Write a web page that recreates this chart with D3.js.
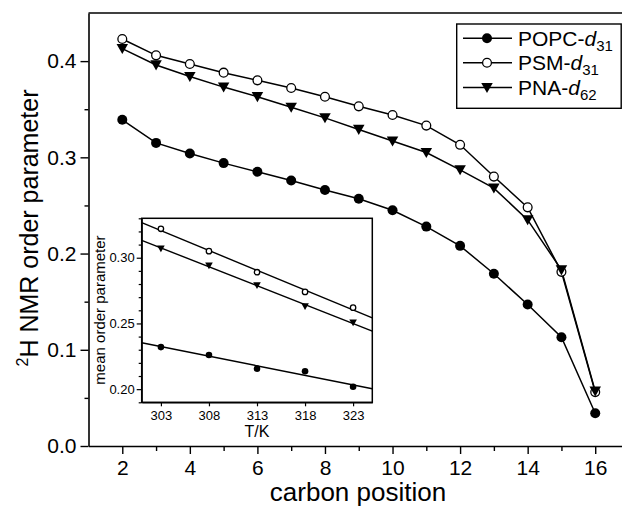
<!DOCTYPE html>
<html><head><meta charset="utf-8">
<script src="https://cdn.jsdelivr.net/npm/d3@7"></script>
<style>body{margin:0;background:#fff}svg{display:block}</style>
</head><body>
<svg id="c" width="622" height="508"></svg>
<script>
// ---- main chart data ----
const carbons = [2,3,4,5,6,7,8,9,10,11,12,13,14,15,16];
const popc = [0.339,0.315,0.304,0.294,0.285,0.276,0.266,0.257,0.245,0.228,0.208,0.179,0.147,0.113,0.034];
const psm  = [0.423,0.406,0.397,0.388,0.380,0.372,0.363,0.353,0.344,0.333,0.313,0.280,0.248,0.181,0.056];
const pna  = [0.413,0.396,0.384,0.373,0.363,0.352,0.341,0.329,0.317,0.305,0.287,0.268,0.235,0.183,0.057];
const xTicks = [2,4,6,8,10,12,14,16];
const xMinor = [3,5,7,9,11,13,15];
const yTicks = [0.0,0.1,0.2,0.3,0.4];
const yMinor = [0.05,0.15,0.25,0.35];
// ---- inset data ----
const temps = [303,308,313,318,323];
const popcT = [0.232,0.226,0.2156,0.2136,0.2018];
const psmT  = [0.322,0.305,0.289,0.274,0.262];
const pnaT  = [0.307,0.294,0.279,0.263,0.2506];
const tTicks = [303,308,313,318,323];
const sTicks = [0.20,0.25,0.30];
const sMinor = [0.19,0.21,0.22,0.23,0.24,0.26,0.27,0.28,0.29,0.31,0.32,0.33];

const FONT = "'Liberation Sans', Arial, Helvetica, sans-serif";
const svg = d3.select("#c").style("font-family", FONT);

const x = d3.scaleLinear().domain([1,17]).range([88.5,629]);
const y = d3.scaleLinear().domain([0,0.45]).range([446,13]);

function styleAxis(g, fs){
  g.selectAll(".domain").attr("stroke","#000").attr("stroke-width",1.6);
  g.selectAll(".tick line").attr("stroke","#000").attr("stroke-width",1.4);
  g.selectAll("text").attr("fill","#000").style("font-size",fs+"px").style("font-family",FONT);
}

// main axes
const gy = svg.append("g").attr("transform","translate(88.5,0)")
  .call(d3.axisLeft(y).tickValues(yTicks).tickFormat(d3.format(".1f")).tickSize(8).tickPadding(4).tickSizeOuter(0));
styleAxis(gy,21);
const gym = svg.append("g").attr("transform","translate(88.5,0)")
  .call(d3.axisLeft(y).tickValues(yMinor).tickFormat("").tickSize(4).tickSizeOuter(0));
styleAxis(gym,21); gym.select(".domain").remove();

const gx = svg.append("g").attr("transform","translate(0,446)")
  .call(d3.axisBottom(x).tickValues(xTicks).tickFormat(d3.format("d")).tickSize(8).tickPadding(6).tickSizeOuter(0));
styleAxis(gx,21);
const gxm = svg.append("g").attr("transform","translate(0,446)")
  .call(d3.axisBottom(x).tickValues(xMinor).tickFormat("").tickSize(5).tickSizeOuter(0));
styleAxis(gxm,21); gxm.select(".domain").remove();

// top frame
svg.append("line").attr("x1",x.range()[0]).attr("x2",x.range()[1]).attr("y1",13).attr("y2",13)
  .attr("stroke","#000").attr("stroke-width",1.6);

// axis titles
svg.append("text").attr("x",358).attr("y",501).attr("text-anchor","middle")
  .style("font-size","26px").text("carbon position");
const yt = svg.append("text").attr("transform","translate(38,228) rotate(-90)")
  .attr("text-anchor","middle").style("font-size","25px");
yt.append("tspan").attr("dy",-10).style("font-size","16px").text("2");
yt.append("tspan").attr("dy",10).text("H NMR order parameter");

// markers
function tri(s){ return `M${-s},${-s*0.8}L${s},${-s*0.8}L0,${s*0.95}Z`; }
function drawMarker(g, kind, cx, cy, r){
  if(kind==="filled") g.append("circle").attr("cx",cx).attr("cy",cy).attr("r",r).attr("fill","#000");
  else if(kind==="open") g.append("circle").attr("cx",cx).attr("cy",cy).attr("r",r-0.6).attr("fill","#fff").attr("stroke","#000").attr("stroke-width",1.3);
  else g.append("path").attr("d",tri(r*1.15)).attr("transform",`translate(${cx},${cy})`).attr("fill","#000");
}

const series = [
  {name:"POPC-", sub:"31", vals:popc, kind:"filled", tv:popcT},
  {name:"PSM-", sub:"31", vals:psm, kind:"open", tv:psmT},
  {name:"PNA-", sub:"62", vals:pna, kind:"tri", tv:pnaT}
];

const line = d3.line().x(d=>x(d[0])).y(d=>y(d[1]));
const main = svg.append("g");
series.forEach(s=>{
  const pts = carbons.map((c,i)=>[c,s.vals[i]]);
  main.append("path").attr("d",line(pts)).attr("fill","none").attr("stroke","#000").attr("stroke-width",1.5);
});
[1,2,0].forEach(k=>{
  const s = series[k];
  carbons.forEach((c,i)=>drawMarker(main, s.kind, x(c), y(s.vals[i]), 5));
});

// legend
const lg = svg.append("g");
lg.append("rect").attr("x",456.7).attr("y",24).attr("width",164.5).attr("height",84.3)
  .attr("fill","#fff").attr("stroke","#000").attr("stroke-width",1.4);
const rowY = [38.3,62.7,87.5];
series.forEach((s,i)=>{
  lg.append("line").attr("x1",463).attr("x2",512).attr("y1",rowY[i]).attr("y2",rowY[i]).attr("stroke","#000").attr("stroke-width",1.5);
  drawMarker(lg, s.kind, 487, rowY[i], 5);
  const t = lg.append("text").attr("x",518).attr("y",rowY[i]+7.5).style("font-size","21px");
  t.append("tspan").text(s.name);
  t.append("tspan").style("font-style","italic").text("d");
  t.append("tspan").attr("dy",5).style("font-size","15px").text(s.sub);
});

// ---- inset ----
const ix = d3.scaleLinear().domain([301,325]).range([141.7,372.3]);
const iy = d3.scaleLinear().domain([0.19,0.33]).range([402.3,218.3]);
const ins = svg.append("g");
ins.append("rect").attr("x",ix.range()[0]).attr("y",iy.range()[1])
  .attr("width",ix.range()[1]-ix.range()[0]).attr("height",iy.range()[0]-iy.range()[1])
  .attr("fill","#fff").attr("stroke","#000").attr("stroke-width",1.5);
const giy = ins.append("g").attr("transform",`translate(${ix.range()[0]},0)`)
  .call(d3.axisLeft(iy).tickValues(sTicks).tickFormat(d3.format(".2f")).tickSize(5).tickPadding(2).tickSizeOuter(0));
styleAxis(giy,13);
const giym = ins.append("g").attr("transform",`translate(${ix.range()[0]},0)`)
  .call(d3.axisLeft(iy).tickValues(sMinor).tickFormat("").tickSize(3).tickSizeOuter(0));
styleAxis(giym,13); giym.select(".domain").remove();
const gix = ins.append("g").attr("transform",`translate(0,${iy.range()[0]})`)
  .call(d3.axisBottom(ix).tickValues(tTicks).tickFormat(d3.format("d")).tickSize(4).tickPadding(4).tickSizeOuter(0));
styleAxis(gix,13);
[giy,giym,gix].forEach(g=>g.selectAll(".domain,line").attr("stroke-width",1.2));

ins.append("text").attr("x",257).attr("y",437).attr("text-anchor","middle").style("font-size","16px").text("T/K");
ins.append("text").attr("transform","translate(105,310) rotate(-90)").attr("text-anchor","middle")
  .style("font-size","15px").text("mean order parameter");

// least-squares fit lines through the inset points
function fit(xs, ys){
  const mx = d3.mean(xs), my = d3.mean(ys);
  const b = d3.sum(xs.map((v,i)=>(v-mx)*(ys[i]-my))) / d3.sum(xs.map(v=>(v-mx)*(v-mx)));
  return t => my + b*(t-mx);
}
const clipId = "insclip";
svg.append("clipPath").attr("id",clipId).append("rect")
  .attr("x",ix.range()[0]).attr("y",iy.range()[1]).attr("width",ix.range()[1]-ix.range()[0]).attr("height",iy.range()[0]-iy.range()[1]);
const ig = ins.append("g").attr("clip-path",`url(#${clipId})`);
series.forEach(s=>{
  const f = fit(temps, s.tv);
  const d0 = ix.domain();
  ig.append("line").attr("x1",ix(d0[0])).attr("x2",ix(d0[1])).attr("y1",iy(f(d0[0]))).attr("y2",iy(f(d0[1])))
    .attr("stroke","#000").attr("stroke-width",1.4);
});
series.forEach(s=>{
  temps.forEach((t,i)=>drawMarker(ig, s.kind, ix(t), iy(s.tv[i]), 3.3));
});
</script>
</body></html>
